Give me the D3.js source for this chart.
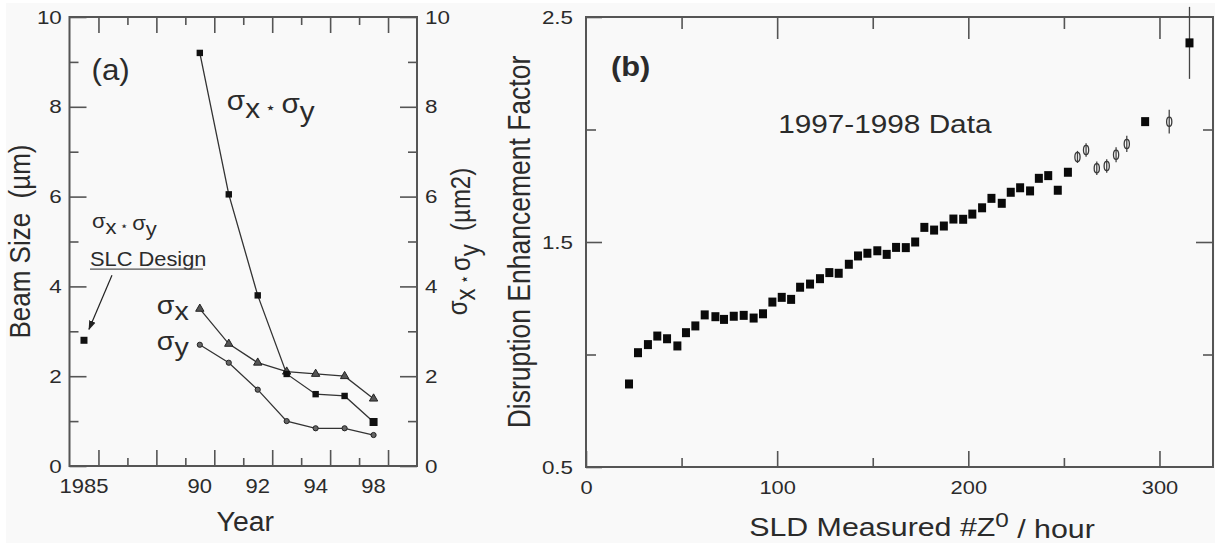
<!DOCTYPE html>
<html><head><meta charset="utf-8">
<script src="https://cdn.jsdelivr.net/npm/d3@7"></script>
<style>
html,body{margin:0;padding:0;background:#fff;}
svg{display:block;font-family:"Liberation Sans",Arial,Helvetica,sans-serif;}
</style></head><body>
<svg id="c" width="1215" height="546"></svg>
<script>
// ---------- Panel (a) data ----------
const yearCells = d3.range(12);              // one cell per year slot on the axis
const yearTickCells = [0, 4, 6, 8, 10];
const yearTickLabels = ["1985", "90", "92", "94", "98"];
const designCell = 0;
const designProduct = 2.8;                   // SLC design sigma_x*sigma_y
const runCells = [4, 5, 6, 7, 8, 9, 10];
const sigmaProduct = [9.2, 6.05, 3.8, 2.05, 1.6, 1.56, 0.98];
const sigmaX = [3.5, 2.72, 2.3, 2.1, 2.05, 2.0, 1.5];
const sigmaY = [2.7, 2.3, 1.7, 1.0, 0.84, 0.84, 0.69];
const beamMajor = [0, 2, 4, 6, 8, 10];
const beamMinor = [1, 3, 5, 7, 9];

// ---------- Panel (b) data ----------
const zRate = [22.5, 27.2, 32.4, 37.3, 42.4, 47.8, 52.3, 57.2, 62.1, 67.7, 72.2, 77.3, 82.5, 87.7, 92.6,
  97.5, 102.4, 107.3, 112, 117.2, 122.4, 127.3, 132.2, 137.5, 142.3, 147.2, 152.4, 157.3, 162.2, 167.3,
  172.2, 177.0, 182.1, 187.2, 192.2, 197.3, 202.1, 207.2, 212.1, 217.5, 222.2, 227.1, 232.3, 236.9,
  241.8, 246.8, 252.1, 292.5, 315.7];
const enhancement = [0.869, 1.008, 1.044, 1.082, 1.07, 1.038, 1.097, 1.127, 1.176, 1.168, 1.156, 1.17,
  1.174, 1.162, 1.181, 1.233, 1.254, 1.245, 1.299, 1.313, 1.337, 1.364, 1.361, 1.401, 1.438, 1.45, 1.461,
  1.445, 1.476, 1.475, 1.5, 1.565, 1.553, 1.571, 1.602, 1.601, 1.624, 1.652, 1.694, 1.672, 1.721, 1.741,
  1.727, 1.783, 1.795, 1.73, 1.81, 2.035, 2.385];
const enhancementErr = [0, 0, 0, 0, 0, 0, 0, 0, 0, 0, 0, 0, 0, 0, 0, 0, 0, 0, 0, 0, 0, 0, 0, 0, 0, 0, 0,
  0, 0, 0, 0, 0, 0, 0, 0, 0, 0, 0, 0, 0, 0, 0, 0, 0, 0, 0, 0, 0, 0.16];
const zRateLow = [257.1, 261.6, 267.2, 272.4, 277.3, 282.9, 305.1];
const enhancementLow = [1.878, 1.909, 1.828, 1.838, 1.888, 1.936, 2.035];
const enhancementLowErr = [0.027, 0.03, 0.03, 0.03, 0.033, 0.036, 0.053];
const rateMajor = [0, 100, 200, 300];
const rateMinor = [50, 150, 250];
const enhMajor = [0.5, 1.5, 2.5];
const enhMinor = [1.0, 2.0];

// ---------- setup ----------
const W = 1215, H = 546;
const INK = "#2b2b2b", AX = "#555";
const svg = d3.select("#c");
svg.append("rect").attr("width", W).attr("height", H).attr("fill", "#fff");
svg.append("rect").attr("x", 6).attr("y", 3).attr("width", W - 6).attr("height", H - 6).attr("fill", "#f9f9f9");

function styleAxis(g, size, sx) {
  g.attr("font-size", null).attr("font-family", null);
  g.select(".domain").remove();
  g.selectAll(".tick line").attr("stroke", AX).attr("stroke-width", 1.6);
  g.selectAll(".tick text").attr("fill", INK).style("font-size", size + "px")
    .attr("transform", `scale(${sx},1)`);
}
function label(g, x, y, str, o = {}) {
  const t = g.append("text")
    .attr("transform", `translate(${x},${y}) scale(${o.sx || 1.15},1) rotate(${o.rot || 0})`)
    .attr("text-anchor", o.anchor || "start")
    .attr("font-size", o.size || 20)
    .attr("font-weight", o.weight || "normal")
    .attr("fill", INK);
  if (str !== null) t.text(str);
  return t;
}
// sigma_x * sigma_y styled text
function sigmaText(t, tail) {
  const sub = "0.3em";
  t.append("tspan").text("σ");
  t.append("tspan").attr("dy", sub).text("x");
  t.append("tspan").attr("dy", "-0.3em").attr("font-size", "0.6em").text(" \u22C6 ");
  t.append("tspan").text("σ");
  t.append("tspan").attr("dy", sub).text("y");
  if (tail) t.append("tspan").attr("dy", "-0.3em").text(tail);
}

// ================= Panel (a) =================
const gA = svg.append("g");
const L = 69.5, R = 417, T = 17, B = 466;
const xA = d3.scaleBand(yearCells, [L, R]);
const xAEdge = d3.scaleLinear([0, yearCells.length], [L, R]);
const yA = d3.scaleLinear([0, 10], [B, T]);
const cxA = c => xA(c) + xA.bandwidth() / 2;

// ticks
gA.append("g").attr("transform", `translate(${L},0)`)
  .call(d3.axisLeft(yA).tickValues(beamMajor).tickSizeInner(-17).tickSizeOuter(0).tickPadding(6.5).tickFormat(d3.format("d")))
  .call(g => styleAxis(g, 19, 1.18));
gA.append("g").attr("transform", `translate(${L},0)`)
  .call(d3.axisLeft(yA).tickValues(beamMinor).tickSizeInner(-9).tickSizeOuter(0).tickFormat(""))
  .call(g => styleAxis(g, 19, 1.18));
gA.append("g").attr("transform", `translate(${R},0)`)
  .call(d3.axisRight(yA).tickValues(beamMajor).tickSizeInner(-17).tickSizeOuter(0).tickPadding(6.8).tickFormat(d3.format("d")))
  .call(g => styleAxis(g, 19, 1.18));
gA.append("g").attr("transform", `translate(${R},0)`)
  .call(d3.axisRight(yA).tickValues(beamMinor).tickSizeInner(-9).tickSizeOuter(0).tickFormat(""))
  .call(g => styleAxis(g, 19, 1.18));
const edgeMajor = d3.range(1, yearCells.length, 2), edgeMinor = d3.range(2, yearCells.length, 2);
[[B, d3.axisBottom], [T, d3.axisTop]].forEach(([yy, ax]) => {
  gA.append("g").attr("transform", `translate(0,${yy})`)
    .call(ax(xAEdge).tickValues(edgeMajor).tickSizeInner(-16).tickSizeOuter(0).tickFormat(""))
    .call(g => styleAxis(g, 19, 1));
  gA.append("g").attr("transform", `translate(0,${yy})`)
    .call(ax(xAEdge).tickValues(edgeMinor).tickSizeInner(-8).tickSizeOuter(0).tickFormat(""))
    .call(g => styleAxis(g, 19, 1));
});
gA.append("g").attr("transform", `translate(0,${B})`)
  .call(d3.axisBottom(xA).tickValues(yearTickCells).tickSize(0).tickPadding(13)
    .tickFormat(d => yearTickLabels[yearTickCells.indexOf(d)]))
  .call(g => styleAxis(g, 20, 1.1));
gA.append("rect").attr("x", L).attr("y", T).attr("width", R - L).attr("height", B - T)
  .attr("fill", "none").attr("stroke", AX).attr("stroke-width", 2);

// series
const lineA = d3.line().x((d, i) => cxA(runCells[i])).y(d => yA(d));
[sigmaX, sigmaY, sigmaProduct].forEach(s => {
  gA.append("path").attr("d", lineA(s)).attr("fill", "none").attr("stroke", "#333").attr("stroke-width", 1.3);
});
gA.selectAll(".mx").data(sigmaX).join("path")
  .attr("transform", (d, i) => `translate(${cxA(runCells[i])},${yA(d)})`)
  .attr("d", d3.symbol(d3.symbolTriangle, 30)).attr("fill", "#555").attr("stroke", "#222").attr("stroke-width", 1);
gA.selectAll(".my").data(sigmaY).join("circle")
  .attr("cx", (d, i) => cxA(runCells[i])).attr("cy", d => yA(d)).attr("r", 2.6)
  .attr("fill", "#666").attr("stroke", "#222").attr("stroke-width", 1);
gA.selectAll(".mp").data(sigmaProduct).join("rect")
  .attr("x", (d, i) => cxA(runCells[i]) - (i === sigmaProduct.length - 1 ? 4 : 3.2))
  .attr("y", (d, i) => yA(d) - (i === sigmaProduct.length - 1 ? 4 : 3.2))
  .attr("width", (d, i) => i === sigmaProduct.length - 1 ? 8 : 6.4)
  .attr("height", (d, i) => i === sigmaProduct.length - 1 ? 8 : 6.4)
  .attr("fill", "#111");
gA.append("rect").attr("x", cxA(designCell) - 3.5).attr("y", yA(designProduct) - 3.5)
  .attr("width", 7).attr("height", 7).attr("fill", "#111");

// annotations (a)
label(gA, L + 22, T + 63, "(a)", { size: 29, sx: 1.08 });
sigmaText(label(gA, cxA(runCells[0]) + 27, T + 93, null, { size: 27, sx: 1.1 }));
sigmaText(label(gA, cxA(designCell) + 8, yA(5.3), null, { size: 20, sx: 1.1 }));
label(gA, cxA(designCell) + 6, yA(4.45), "SLC Design", { size: 19.5, sx: 1.12 });
gA.append("line").attr("x1", cxA(designCell) + 6).attr("x2", cxA(designCell) + 119)
  .attr("y1", yA(4.45) + 3).attr("y2", yA(4.45) + 3).attr("stroke", "#555").attr("stroke-width", 1.3);
svg.append("defs").append("marker").attr("id", "ah").attr("viewBox", "0 0 10 10")
  .attr("refX", 9).attr("refY", 5).attr("markerWidth", 8).attr("markerHeight", 8).attr("orient", "auto")
  .append("path").attr("d", "M0,1.5 L10,5 L0,8.5 Z").attr("fill", "#222");
gA.append("line").attr("x1", cxA(designCell) + 28).attr("y1", yA(4.45) + 9)
  .attr("x2", cxA(designCell) + 5).attr("y2", yA(designProduct) - 11)
  .attr("stroke", "#222").attr("stroke-width", 1.2).attr("marker-end", "url(#ah)");
const sx1 = label(gA, cxA(runCells[0]) - 11, yA(sigmaX[0]) + 5, null, { size: 26, sx: 1.1, anchor: "end" });
sx1.append("tspan").text("σ"); sx1.append("tspan").attr("dy", "0.25em").text("x");
const sy1 = label(gA, cxA(runCells[0]) - 11, yA(sigmaY[0]) + 5, null, { size: 26, sx: 1.1, anchor: "end" });
sy1.append("tspan").text("σ"); sy1.append("tspan").attr("dy", "0.25em").text("y");

// axis titles (a)
const ta = label(gA, 30, (T + B) / 2, null, { size: 26, sx: 1.15, rot: -90, anchor: "middle" });
ta.append("tspan").text("Beam Size\u00A0\u00A0(µm)");
sigmaText(label(gA, 467, (T + B) / 2, null, { size: 24, sx: 1.15, rot: -90, anchor: "middle" }), "\u00A0\u00A0(µm2)");
label(gA, (L + R) / 2 + 2, 531, "Year", { size: 27, sx: 1.05, anchor: "middle" });

// ================= Panel (b) =================
const gB = svg.append("g");
const L2 = 586, R2 = 1213, T2 = 17, B2 = 467;
const xB = d3.scaleLinear([0, 328], [L2, R2]);
const yB = d3.scaleLinear([0.5, 2.5], [B2, T2]);

gB.append("g").attr("transform", `translate(${L2},0)`)
  .call(d3.axisLeft(yB).tickValues(enhMajor).tickSizeInner(-16).tickSizeOuter(0).tickPadding(11).tickFormat(d3.format(".1f")))
  .call(g => styleAxis(g, 19, 1.18));
gB.append("g").attr("transform", `translate(${L2},0)`)
  .call(d3.axisLeft(yB).tickValues(enhMinor).tickSizeInner(-10).tickSizeOuter(0).tickFormat(""))
  .call(g => styleAxis(g, 19, 1.18));
gB.append("g").attr("transform", `translate(${R2},0)`)
  .call(d3.axisRight(yB).tickValues([1.5]).tickSizeInner(-17).tickSizeOuter(0).tickFormat(""))
  .call(g => styleAxis(g, 19, 1.18));
gB.append("g").attr("transform", `translate(${R2},0)`)
  .call(d3.axisRight(yB).tickValues(enhMinor).tickSizeInner(-10).tickSizeOuter(0).tickFormat(""))
  .call(g => styleAxis(g, 19, 1.18));
gB.append("g").attr("transform", `translate(0,${B2})`)
  .call(d3.axisBottom(xB).tickValues(rateMajor).tickSizeInner(-16).tickSizeOuter(0).tickPadding(14).tickFormat(d3.format("d")))
  .call(g => styleAxis(g, 19, 1.15));
gB.append("g").attr("transform", `translate(0,${B2})`)
  .call(d3.axisBottom(xB).tickValues(rateMinor).tickSizeInner(-9).tickSizeOuter(0).tickFormat(""))
  .call(g => styleAxis(g, 19, 1.15));
gB.append("g").attr("transform", `translate(0,${T2})`)
  .call(d3.axisTop(xB).tickValues(rateMajor.slice(1)).tickSizeInner(-22).tickSizeOuter(0).tickFormat(""))
  .call(g => styleAxis(g, 19, 1.15));
gB.append("g").attr("transform", `translate(0,${T2})`)
  .call(d3.axisTop(xB).tickValues(rateMinor).tickSizeInner(-12).tickSizeOuter(0).tickFormat(""))
  .call(g => styleAxis(g, 19, 1.15));
gB.append("rect").attr("x", L2).attr("y", T2).attr("width", R2 - L2).attr("height", B2 - T2)
  .attr("fill", "none").attr("stroke", AX).attr("stroke-width", 2);

// error bars
const bars = [];
zRate.forEach((r, i) => { if (enhancementErr[i] > 0) bars.push([r, enhancement[i], enhancementErr[i]]); });
zRateLow.forEach((r, i) => bars.push([r, enhancementLow[i], enhancementLowErr[i]]));
gB.selectAll(".eb").data(bars).join("line")
  .attr("x1", d => xB(d[0])).attr("x2", d => xB(d[0]))
  .attr("y1", d => yB(d[1] + d[2])).attr("y2", d => yB(d[1] - d[2]))
  .attr("stroke", "#444").attr("stroke-width", 1.3);
// low-statistics points: open markers
gB.selectAll(".lo").data(zRateLow).join("ellipse")
  .attr("cx", d => xB(d)).attr("cy", (d, i) => yB(enhancementLow[i]))
  .attr("rx", 2.6).attr("ry", 4.6).attr("fill", "none").attr("stroke", "#3a3a3a").attr("stroke-width", 1.3);
// filled markers
gB.selectAll(".pt").data(zRate).join("rect")
  .attr("x", d => xB(d) - 4).attr("y", (d, i) => yB(enhancement[i]) - 4.5)
  .attr("width", 8).attr("height", 9).attr("fill", "#0a0a0a");

label(gB, L2 + 25, T2 + 59, "(b)", { size: 28, sx: 1.1, weight: "bold" });
label(gB, xB(100) + 1, 133, "1997-1998 Data", { size: 25, sx: 1.19 });
label(gB, 530, (T2 + B2) / 2, "Disruption Enhancement Factor", { size: 26.5, sx: 1.15, rot: -90, anchor: "middle" });
const xt = label(gB, 922, 536, null, { size: 25.5, sx: 1.19, anchor: "middle" });
xt.append("tspan").text("SLD Measured #Z");
xt.append("tspan").attr("dy", "-0.45em").attr("font-size", "0.8em").text("0");
xt.append("tspan").attr("dy", "0.45em").text(" / hour");
</script>
</body></html>
